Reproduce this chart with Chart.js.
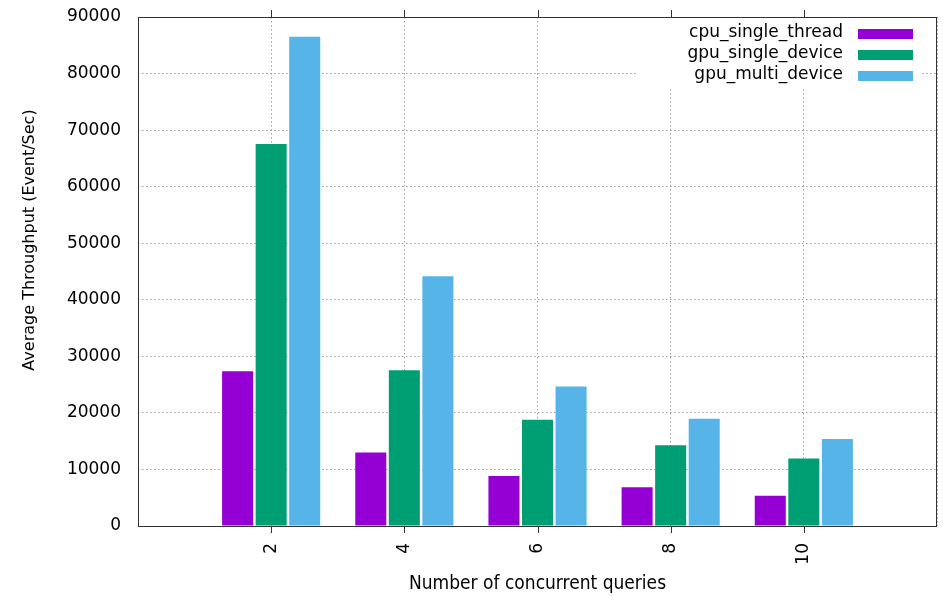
<!DOCTYPE html>
<html>
<head>
<meta charset="utf-8">
<script src="https://cdn.jsdelivr.net/npm/chart.js@4/dist/chart.umd.min.js"></script>
<style>
  html, body { margin: 0; padding: 0; background: #fff; }
  #wrap { width: 943px; height: 596px; }
</style>
</head>
<body>
<div id="wrap"><canvas id="throughputChart" width="943" height="596"></canvas></div>
<script>
// number of concurrent queries on the x axis
const queries = [2, 4, 6, 8, 10];

// average throughput, events per second
const cpuSingleThread = [27350, 13000, 8850, 6850, 5350];
const gpuSingleDevice = [67550, 27550, 18800, 14300, 11950];
const gpuMultiDevice = [86500, 44150, 24650, 18950, 15400];

const seriesNames = ['cpu_single_thread', 'gpu_single_device', 'gpu_multi_device'];
const seriesColors = ['#9400d3', '#009e73', '#56b4e9'];

const yTicks = [0, 10000, 20000, 30000, 40000, 50000, 60000, 70000, 80000, 90000];
const yTitle = 'Average Throughput (Event/Sec)';

const tickFont = { family: 'DejaVu Sans', size: 17 };

function points(values) {
    return queries.map((q, i) => ({ x: q, y: values[i] }));
}

// frame, outward x tick marks, y title and the key in the top right corner
const framePlugin = {
    id: 'frame',
    afterDatasetsDraw(chart) {
        const { ctx, chartArea: a, scales } = chart;
        ctx.save();

        // key
        ctx.fillStyle = '#fff';
        ctx.fillRect(637, a.top + 1, 284, 71);
        ctx.font = '17px "DejaVu Sans"';
        ctx.textAlign = 'right';
        ctx.textBaseline = 'middle';
        const rowY = [34, 55, 76];
        chart.data.datasets.forEach((ds, i) => {
            ctx.fillStyle = '#000';
            ctx.fillText(ds.label, 843, rowY[i] - 1);
            ctx.fillStyle = ds.backgroundColor;
            ctx.fillRect(858, rowY[i] - 5, 55, 10);
        });

        // y title sits a bit above the middle of the axis
        ctx.save();
        ctx.translate(30, 240);
        ctx.rotate(-Math.PI / 2);
        ctx.textAlign = 'center';
        ctx.font = '16px "DejaVu Sans"';
        ctx.fillStyle = '#000';
        ctx.fillText(yTitle, 0, 0);
        ctx.restore();

        // border around the plot
        ctx.strokeStyle = '#333';
        ctx.lineWidth = 1;
        ctx.strokeRect(Math.round(a.left) + 0.5, Math.round(a.top) + 0.5,
            Math.round(a.right - a.left) - 1, Math.round(a.bottom - a.top));

        // tick marks at each query count, bottom and top
        ctx.beginPath();
        queries.forEach(q => {
            const x = Math.round(scales.x.getPixelForValue(q)) + 0.5;
            ctx.moveTo(x, a.bottom);
            ctx.lineTo(x, a.bottom + 7);
            ctx.moveTo(x, a.top);
            ctx.lineTo(x, a.top - 7);
        });
        ctx.stroke();
        ctx.restore();
    }
};

const ctx = document.getElementById('throughputChart').getContext('2d');

new Chart(ctx, {
    type: 'bar',
    data: {
        datasets: [
            { label: seriesNames[0], data: points(cpuSingleThread), backgroundColor: seriesColors[0] },
            { label: seriesNames[1], data: points(gpuSingleDevice), backgroundColor: seriesColors[1] },
            { label: seriesNames[2], data: points(gpuMultiDevice), backgroundColor: seriesColors[2] }
        ]
    },
    options: {
        responsive: false,
        animation: false,
        categoryPercentage: 0.756,
        barPercentage: 0.925,
        layout: { padding: { top: 17, right: 6, left: 0, bottom: 0 } },
        plugins: {
            legend: { display: false },
            tooltip: { enabled: false }
        },
        scales: {
            x: {
                type: 'linear',
                min: 0,
                max: 12,
                offset: false,
                afterBuildTicks(scale) {
                    scale.ticks = [0, 2, 4, 6, 8, 10, 12].map(v => ({ value: v }));
                },
                afterFit(scale) {
                    scale.height = 70;
                    scale.paddingLeft = 0;
                    scale.paddingRight = 0;
                },
                grid: { offset: false, color: '#a0a0a0', drawTicks: false },
                border: { display: false, dash: [1.5, 2.5] },
                ticks: {
                    minRotation: 90,
                    maxRotation: 90,
                    padding: 17,
                    color: '#000',
                    font: tickFont,
                    callback: v => (queries.includes(v) ? String(v) : '')
                },
                title: {
                    display: true,
                    text: 'Number of concurrent queries',
                    color: '#000',
                    font: { family: 'DejaVu Sans Condensed', size: 19 },
                    padding: { top: 1, bottom: 1 }
                }
            },
            y: {
                min: 0,
                max: 90000,
                afterBuildTicks(scale) {
                    scale.ticks = yTicks.map(v => ({ value: v }));
                },
                afterFit(scale) {
                    scale.width = 138;
                    scale.paddingTop = 0;
                    scale.paddingBottom = 0;
                },
                grid: { color: '#a0a0a0', drawTicks: false },
                border: { display: false, dash: [1.5, 2.5] },
                ticks: {
                    padding: 17,
                    color: '#000',
                    font: tickFont,
                    callback: v => String(v)
                }
            }
        }
    },
    plugins: [framePlugin]
});
</script>
</body>
</html>
